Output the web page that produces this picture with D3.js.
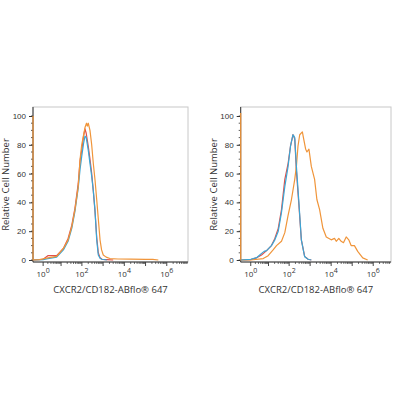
<!DOCTYPE html>
<html>
<head>
<meta charset="utf-8">
<script src="https://cdn.jsdelivr.net/npm/d3@7"></script>
<style>
  body { margin: 0; background: #fff; }
  svg { font-family: "Open Sans", "DejaVu Sans", sans-serif; }
</style>
</head>
<body>
<div id="chart"></div>
<script>
// ---- data ----
var xTitle = "CXCR2/CD182-ABflo\u00ae 647";
var yTitle = "Relative Cell Number";
var yTicks = [0, 20, 40, 60, 80, 100];
var xDecades = [0, 2, 4, 6];   // labelled as 10^n

// left panel (fluorescence intensity, relative count)
var leftOrangeX = [0, 0, 0.5, 2, 6, 13, 22, 33, 47, 67, 82, 98, 140, 165, 180, 200, 241, 290, 346, 420, 500, 600, 718, 850, 1020, 1400, 2115, 5000, 20000, 100000, 220000, 400000];
var leftOrangeY = [100, 0, 0.3, 1.5, 2.5, 8, 14, 23, 35, 51, 70, 80, 92, 95, 93, 95, 90, 80, 67, 55, 42, 28, 14, 7, 3.5, 2, 1, 0.7, 0.6, 0.5, 0.4, 0];
var leftRedX = [0, 1, 2, 4, 6, 13, 22, 33, 47, 67, 82, 98, 120, 140, 160, 200, 241, 291, 346, 414, 500, 594, 720, 900, 1500, 3000];
var leftRedY = [0, 0.5, 3, 3, 3, 8, 15, 24, 36, 53, 69, 76, 86, 91, 88, 79, 70, 60, 48, 34, 16, 5, 1.5, 0.5, 0.3, 0];
var leftBlueX = [0, 1, 2, 6, 13, 22, 33, 47, 67, 82, 98, 120, 140, 160, 201, 241, 291, 346, 414, 500, 594, 720, 860, 1500];
var leftBlueY = [0, 0.3, 1, 2, 7, 13, 22, 34, 50, 63, 72, 81, 86, 85, 76, 67, 58, 48, 35, 14, 3.5, 1.2, 0.5, 0];

// right panel
var rightOrangeX = [0, 0, 1, 5.4, 9.6, 16.9, 24.7, 43, 62, 89, 129, 185, 222, 264, 319, 427, 495, 612, 704, 877, 1138, 1631, 2094, 2824, 4050, 5858, 10065, 14425, 17445, 23075, 29950, 38450, 51900, 68650, 89000, 127500, 183000, 317000, 545000];
var rightOrangeY = [102, 0, 0, 1, 3, 7, 10, 13, 19, 31, 42, 56, 65, 79, 87, 89, 84, 77, 75, 77, 65, 56, 42, 35, 22, 16, 14, 15, 13, 15, 13, 12, 16, 14, 10, 10, 6, 1.5, 0];
var rightRedX = [0, 1, 2.35, 4.4, 8, 14, 20.5, 30, 43, 62, 89, 116, 153, 185, 222, 286, 382, 548, 800, 1138];
var rightRedY = [0, 0.3, 1.5, 3.5, 6.5, 10, 15, 22, 35, 56, 67, 79, 87, 84, 62, 40, 14, 2.5, 0.5, 0];
var rightBlueX = [0, 1, 2.35, 4.4, 6, 8, 14, 20.5, 30, 43, 62, 89, 116, 153, 170, 185, 222, 286, 382, 548, 800, 1138];
var rightBlueY = [0, 0.5, 1.6, 4.6, 6, 6.5, 10, 14, 20, 33, 51, 65, 79, 87, 86, 85, 65, 42, 14, 2.3, 0.5, 0];

var colors = { orange: "#f0953a", red: "#e0504a", blue: "#3aa6d6" };

var width = 400, height = 400;

var svg = d3.select("#chart")
    .append("svg")
    .attr("width", width)
    .attr("height", height);

function zip(xs, ys) {
    return xs.map(function(x, i) { return { x: x, y: ys[i] }; });
}

function drawPanel(left, right, xMax, series) {
    var top = 107, bottom = 262;

    var x = d3.scaleSymlog()
        .constant(0.5)
        .domain([0, xMax])
        .range([left, right]);

    var y = d3.scaleLinear()
        .domain([0, 100])
        .range([260, 116]);

    var g = svg.append("g");

    // frame
    g.append("rect")
        .attr("x", left)
        .attr("y", top)
        .attr("width", right - left)
        .attr("height", bottom - top)
        .attr("fill", "none")
        .attr("stroke", "#c8c8c8")
        .attr("stroke-width", 1);

    // y minor ticks
    g.selectAll(".yminor")
        .data(d3.range(0, 105, 5))
        .enter().append("line")
        .attr("x1", left - 2).attr("x2", left)
        .attr("y1", function(d) { return y(d); })
        .attr("y2", function(d) { return y(d); })
        .attr("stroke", "#333").attr("stroke-width", 0.8);

    var yAxis = g.append("g")
        .attr("transform", "translate(" + left + ",0)")
        .call(d3.axisLeft(y).tickValues(yTicks).tickSize(4).tickPadding(3));
    yAxis.select(".domain").attr("d", "M0," + top + "V" + bottom).attr("stroke", "#333");
    yAxis.selectAll(".tick line").attr("stroke", "#333");
    yAxis.selectAll("text")
        .attr("font-size", 8)
        .attr("fill", "#333");

    // x axis line
    g.append("line")
        .attr("x1", left).attr("x2", right)
        .attr("y1", bottom).attr("y2", bottom)
        .attr("stroke", "#333");

    // x minor ticks (2..9 x 10^k) and decade ticks
    var minors = [];
    d3.range(0, 7).forEach(function(k) {
        d3.range(2, 10).forEach(function(m) {
            var v = m * Math.pow(10, k);
            if (v < xMax) minors.push(v);
        });
    });
    g.selectAll(".xminor")
        .data(minors)
        .enter().append("line")
        .attr("x1", function(d) { return x(d); })
        .attr("x2", function(d) { return x(d); })
        .attr("y1", bottom).attr("y2", bottom + 2)
        .attr("stroke", "#333").attr("stroke-width", 0.7);

    g.selectAll(".xmajor")
        .data(d3.range(0, 7))
        .enter().append("line")
        .attr("x1", function(d) { return x(Math.pow(10, d)); })
        .attr("x2", function(d) { return x(Math.pow(10, d)); })
        .attr("y1", bottom).attr("y2", bottom + 4)
        .attr("stroke", "#333").attr("stroke-width", 0.9);

    var xl = g.selectAll(".xlab")
        .data(xDecades)
        .enter().append("text")
        .attr("x", function(d) { return x(Math.pow(10, d)); })
        .attr("y", bottom + 15)
        .attr("text-anchor", "middle")
        .attr("font-size", 8)
        .attr("fill", "#333");
    xl.append("tspan").text("10");
    xl.append("tspan")
        .attr("dy", -4)
        .attr("font-size", 7)
        .text(function(d) { return d; });

    // titles
    g.append("text")
        .attr("x", (left + right) / 2)
        .attr("y", 293)
        .attr("text-anchor", "middle")
        .attr("font-size", 9.5)
        .attr("fill", "#333")
        .text(xTitle);

    g.append("text")
        .attr("transform", "translate(" + (left - 24) + "," + ((top + bottom) / 2) + ") rotate(-90)")
        .attr("text-anchor", "middle")
        .attr("font-size", 9.5)
        .attr("fill", "#333")
        .text(yTitle);

    // curves
    var line = d3.line()
        .x(function(d) { return x(d.x); })
        .y(function(d) { return y(d.y); })
        .curve(d3.curveLinear);

    series.forEach(function(s) {
        g.append("path")
            .datum(zip(s.x, s.y))
            .attr("fill", "none")
            .attr("stroke", colors[s.color])
            .attr("stroke-width", 1.2)
            .attr("stroke-linejoin", "round")
            .attr("d", line);
    });
}

drawPanel(33, 188, 1e7, [
    { x: leftRedX, y: leftRedY, color: "red" },
    { x: leftBlueX, y: leftBlueY, color: "blue" },
    { x: leftOrangeX, y: leftOrangeY, color: "orange" }
]);

drawPanel(240.7, 391, 7e6, [
    { x: rightRedX, y: rightRedY, color: "red" },
    { x: rightOrangeX, y: rightOrangeY, color: "orange" },
    { x: rightBlueX, y: rightBlueY, color: "blue" }
]);
</script>
</body>
</html>
